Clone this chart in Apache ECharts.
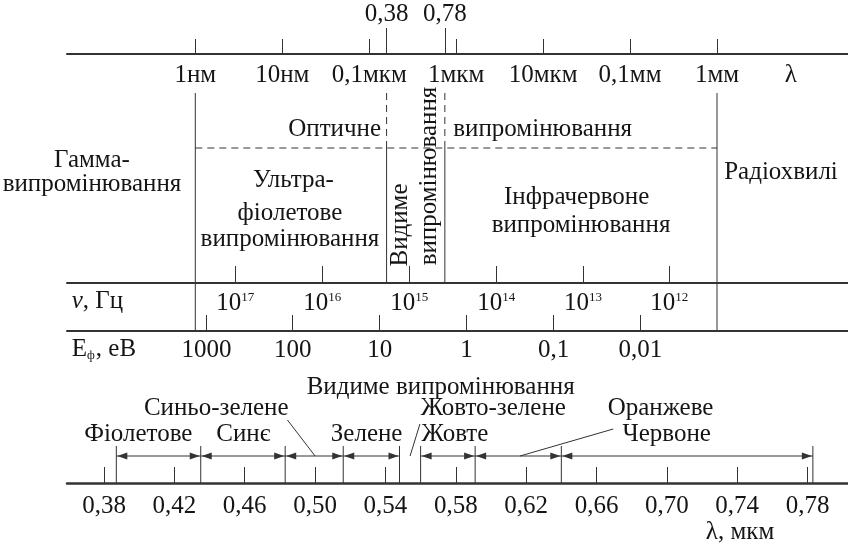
<!DOCTYPE html>
<html><head><meta charset="utf-8">
<script src="https://cdn.jsdelivr.net/npm/echarts@6/dist/echarts.min.js"></script>
<style>html,body{margin:0;padding:0;background:#fff}#c{width:848px;height:546px}</style>
</head><body><div id="c"></div>
<script>
// ---------------- data ----------------
// Upper scale: wavelength in decades of nanometres (0 = 1 нм, 6 = 1 мм)
const lambdaTicks = [0, 1, 2, 3, 4, 5, 6];
const lambdaTickLabels = ['1нм', '10нм', '0,1мкм', '1мкм', '10мкм', '0,1мм', '1мм'];
const lambdaSymbolAt = 6.85;
const visibleEdges = [2.2, 2.87];            // 0,38 мкм and 0,78 мкм as drawn
const visibleEdgeLabels = ['0,38', '0,78'];
const regionEdges = [0, 6];                  // gamma | UV at 1 нм, IR | radio at 1 мм
const nuTicks = [0.46, 1.46, 2.46, 3.46, 4.46, 5.45];
const nuExponents = ['17', '16', '15', '14', '13', '12'];
const energyTicks = [0.13, 1.12, 2.12, 3.12, 4.12, 5.12];
const energyLabels = ['1000', '100', '10', '1', '0,1', '0,01'];
// Lower scale: visible light, мкм
const visTicks = [0.38, 0.42, 0.46, 0.50, 0.54, 0.58, 0.62, 0.66, 0.70, 0.74, 0.78];
const colourEdges = [0.387, 0.435, 0.483, 0.516, 0.548, 0.560, 0.591, 0.640, 0.783];
const colourNames = ['Фіолетове', 'Синє', 'Синьо-зелене', 'Зелене', 'Жовто-зелене', 'Жовте', 'Оранжеве', 'Червоне'];

// ---------------- layout & style ----------------
const FONT = '"Liberation Serif", "Times New Roman", serif';
const FS = 25;
const TXT = '#151515', LINE = '#333';
const decMin = (67 - 195.3) / 86.95, decMax = (848 - 195.3) / 86.95;
const umMin = 0.38 - (104 - 67) / 1759, umMax = 0.38 + (848 - 104) / 1759;

// text anchors: [axis value, row], colour-name anchors for the lower part
const colourNamePos = [[0.3995, 434], [0.4592, 434], [0.4438, 408], [0.5293, 434], [0.6013, 408], [0.5795, 434], [0.6964, 408], [0.6999, 434]];

const upperItems = [
  {k: 'line', p: [[regionEdges[0], 93], [regionEdges[0], 331]]},
  {k: 'line', p: [[regionEdges[1], 93], [regionEdges[1], 331]]},
  {k: 'line', p: [[visibleEdges[0], 93], [visibleEdges[0], 148]], dash: true},
  {k: 'line', p: [[visibleEdges[0], 148], [visibleEdges[0], 283]]},
  {k: 'line', p: [[visibleEdges[1], 93], [visibleEdges[1], 148]], dash: true},
  {k: 'line', p: [[visibleEdges[1], 148], [visibleEdges[1], 283]]},
  {k: 'line', p: [[regionEdges[0], 148], [regionEdges[1], 148]], dash: true},
  {k: 'text', t: 'Оптичне', p: [2.136, 129], align: 'right'},
  {k: 'text', t: 'випромінювання', p: [2.967, 129], align: 'left'},
  {k: 'text', t: 'Гамма-', p: [-1.188, 160]},
  {k: 'text', t: 'випромінювання', p: [-1.188, 184]},
  {k: 'text', t: 'Ультра-', p: [1.129, 180]},
  {k: 'text', t: 'фіолетове', p: [1.089, 213]},
  {k: 'text', t: 'випромінювання', p: [1.089, 239]},
  {k: 'text', t: 'Видиме', p: [2.354, 225], rot: Math.PI / 2},
  {k: 'text', t: 'випромінювання', p: [2.688, 176], rot: Math.PI / 2},
  {k: 'text', t: 'Інфрачервоне', p: [4.386, 197]},
  {k: 'text', t: 'випромінювання', p: [4.436, 225]},
  {k: 'text', t: 'Радіохвилі', p: [6.736, 172]},
  {k: 'text', t: '{i|ν}{n|, Гц}', p: [-1.421, 301], align: 'left'},
  {k: 'text', t: '{n|Е}{sub|ф}{n|, еВ}', p: [-1.421, 349], align: 'left'}
];

const lowerItems = [];
colourEdges.forEach(e => lowerItems.push({k: 'line', p: [[e, 446], [e, 483]]}));
for (let i = 0; i < colourEdges.length - 1; i++) {
  if (colourNames[i] === 'Жовто-зелене') continue;
  lowerItems.push({k: 'arrow', p: [[colourEdges[i], 456], [colourEdges[i + 1], 456]]});
}
lowerItems.push({k: 'line', p: [[0.4843, 420], [0.500, 456]]});
lowerItems.push({k: 'line', p: [[0.5596, 424], [0.554, 456]]});
lowerItems.push({k: 'line', p: [[0.6695, 429], [0.6165, 456]]});
colourNames.forEach((n, i) => lowerItems.push({k: 'text', t: n, p: colourNamePos[i]}));
lowerItems.push({k: 'text', t: 'Видиме випромінювання', p: [0.5714, 387]});
lowerItems.push({k: 'text', t: 'λ, мкм', p: [0.7416, 532]});

const RICH = {
  n: {fontSize: FS, fontFamily: FONT, color: TXT},
  i: {fontSize: FS, fontFamily: FONT, color: TXT, fontStyle: 'italic'},
  sub: {fontSize: 12, fontFamily: FONT, color: TXT, verticalAlign: 'bottom', padding: [0, 1, 0, 0]}
};

function drawItem(it, api) {
  if (it.k === 'line') {
    const a = api.coord(it.p[0]), b = api.coord(it.p[1]);
    return {type: 'line', shape: {x1: a[0], y1: a[1], x2: b[0], y2: b[1]},
      style: {stroke: LINE, lineWidth: 1, lineDash: it.dash ? [7, 5] : null}};
  }
  if (it.k === 'arrow') {
    const a = api.coord(it.p[0]), b = api.coord(it.p[1]);
    const y = a[1];
    return {type: 'group', children: [
      {type: 'line', shape: {x1: a[0], y1: y, x2: b[0], y2: y}, style: {stroke: LINE, lineWidth: 1}},
      {type: 'polygon', shape: {points: [[a[0] + 1, y], [a[0] + 11, y - 3.5], [a[0] + 11, y + 3.5]]}, style: {fill: LINE}},
      {type: 'polygon', shape: {points: [[b[0] - 1, y], [b[0] - 11, y - 3.5], [b[0] - 11, y + 3.5]]}, style: {fill: LINE}}
    ]};
  }
  const a = api.coord(it.p);
  const rich = it.t.indexOf('{') === 0;
  return {type: 'text', x: a[0], y: a[1], rotation: it.rot || 0,
    style: {text: it.t, rich: rich ? RICH : undefined, fill: TXT, font: FS + 'px ' + FONT,
      align: it.align || 'center', verticalAlign: 'middle'}};
}

const idx = (arr, v) => arr.findIndex(t => Math.abs(t - v) < 1e-6);
const labelStyle = {fontFamily: FONT, fontSize: FS, color: TXT};
const lineStyle = {color: LINE, width: 2};
const tickStyle = {color: LINE, width: 1};
const hiddenY = (g, extra) => Object.assign({type: 'value', gridIndex: g, show: false, min: 0, max: 1}, extra || {});

const option = {
  animation: false,
  backgroundColor: '#fff',
  grid: [
    {left: 67, right: 0, top: 0, bottom: 0},
    {left: 67, right: 0, top: 0, bottom: 0},
    {left: 67, right: 0, top: 54, height: 100},
    {left: 67, right: 0, top: 150, bottom: 263},
    {left: 67, right: 0, top: 150, bottom: 215},
    {left: 67, right: 0, top: 400, bottom: 63}
  ],
  xAxis: [
    {type: 'value', gridIndex: 0, min: decMin, max: decMax, show: false},
    {type: 'value', gridIndex: 1, min: umMin, max: umMax, show: false},
    {type: 'value', gridIndex: 2, min: decMin, max: decMax, position: 'top', splitLine: {show: false},
      axisLine: {show: true, onZero: false, lineStyle},
      axisTick: {show: true, inside: false, length: 15, customValues: lambdaTicks, lineStyle: tickStyle},
      axisLabel: Object.assign({inside: true, margin: 9, customValues: lambdaTicks.concat([lambdaSymbolAt]),
        formatter: v => { const i = idx(lambdaTicks, v); return i >= 0 ? lambdaTickLabels[i] : 'λ'; }}, labelStyle)},
    {type: 'value', gridIndex: 2, min: decMin, max: decMax, position: 'top', splitLine: {show: false},
      axisLine: {show: false, onZero: false},
      axisTick: {show: true, inside: false, length: 26, customValues: visibleEdges, lineStyle: tickStyle},
      axisLabel: Object.assign({margin: 27, customValues: visibleEdges,
        formatter: v => visibleEdgeLabels[idx(visibleEdges, v)]}, labelStyle)},
    {type: 'value', gridIndex: 3, min: decMin, max: decMax, position: 'bottom', splitLine: {show: false},
      axisLine: {show: true, onZero: false, lineStyle},
      axisTick: {show: true, inside: true, length: 17, customValues: nuTicks, lineStyle: tickStyle},
      axisLabel: {margin: 8, customValues: nuTicks,
        formatter: v => '{b|10}{s|' + nuExponents[idx(nuTicks, v)] + '}',
        rich: {b: {fontSize: FS, fontFamily: FONT, color: TXT},
               s: {fontSize: 13, fontFamily: FONT, color: TXT, verticalAlign: 'top'}}}},
    {type: 'value', gridIndex: 4, min: decMin, max: decMax, position: 'bottom', splitLine: {show: false},
      axisLine: {show: true, onZero: false, lineStyle},
      axisTick: {show: true, inside: true, length: 16, customValues: energyTicks, lineStyle: tickStyle},
      axisLabel: Object.assign({margin: 7, customValues: energyTicks,
        formatter: v => energyLabels[idx(energyTicks, v)]}, labelStyle)},
    {type: 'value', gridIndex: 5, min: umMin, max: umMax, position: 'bottom', splitLine: {show: false},
      axisLine: {show: true, onZero: false, lineStyle: {color: LINE, width: 2.5}},
      axisTick: {show: true, inside: true, length: 16, customValues: visTicks, lineStyle: tickStyle},
      axisLabel: Object.assign({margin: 11, customValues: visTicks,
        formatter: v => v.toFixed(2).replace('.', ',')}, labelStyle)}
  ],
  yAxis: [
    hiddenY(0, {min: 0, max: 546, inverse: true}),
    hiddenY(1, {min: 0, max: 546, inverse: true}),
    hiddenY(2), hiddenY(3), hiddenY(4), hiddenY(5)
  ],
  series: [
    {type: 'custom', xAxisIndex: 0, yAxisIndex: 0, clip: false, silent: true,
      data: upperItems.map((_, i) => [i]),
      renderItem: (params, api) => drawItem(upperItems[params.dataIndex], api)},
    {type: 'custom', xAxisIndex: 1, yAxisIndex: 1, clip: false, silent: true,
      data: lowerItems.map((_, i) => [i]),
      renderItem: (params, api) => drawItem(lowerItems[params.dataIndex], api)}
  ]
};
const chart = echarts.init(document.getElementById('c'), null, {renderer: 'canvas'});
chart.setOption(option);
</script></body></html>
